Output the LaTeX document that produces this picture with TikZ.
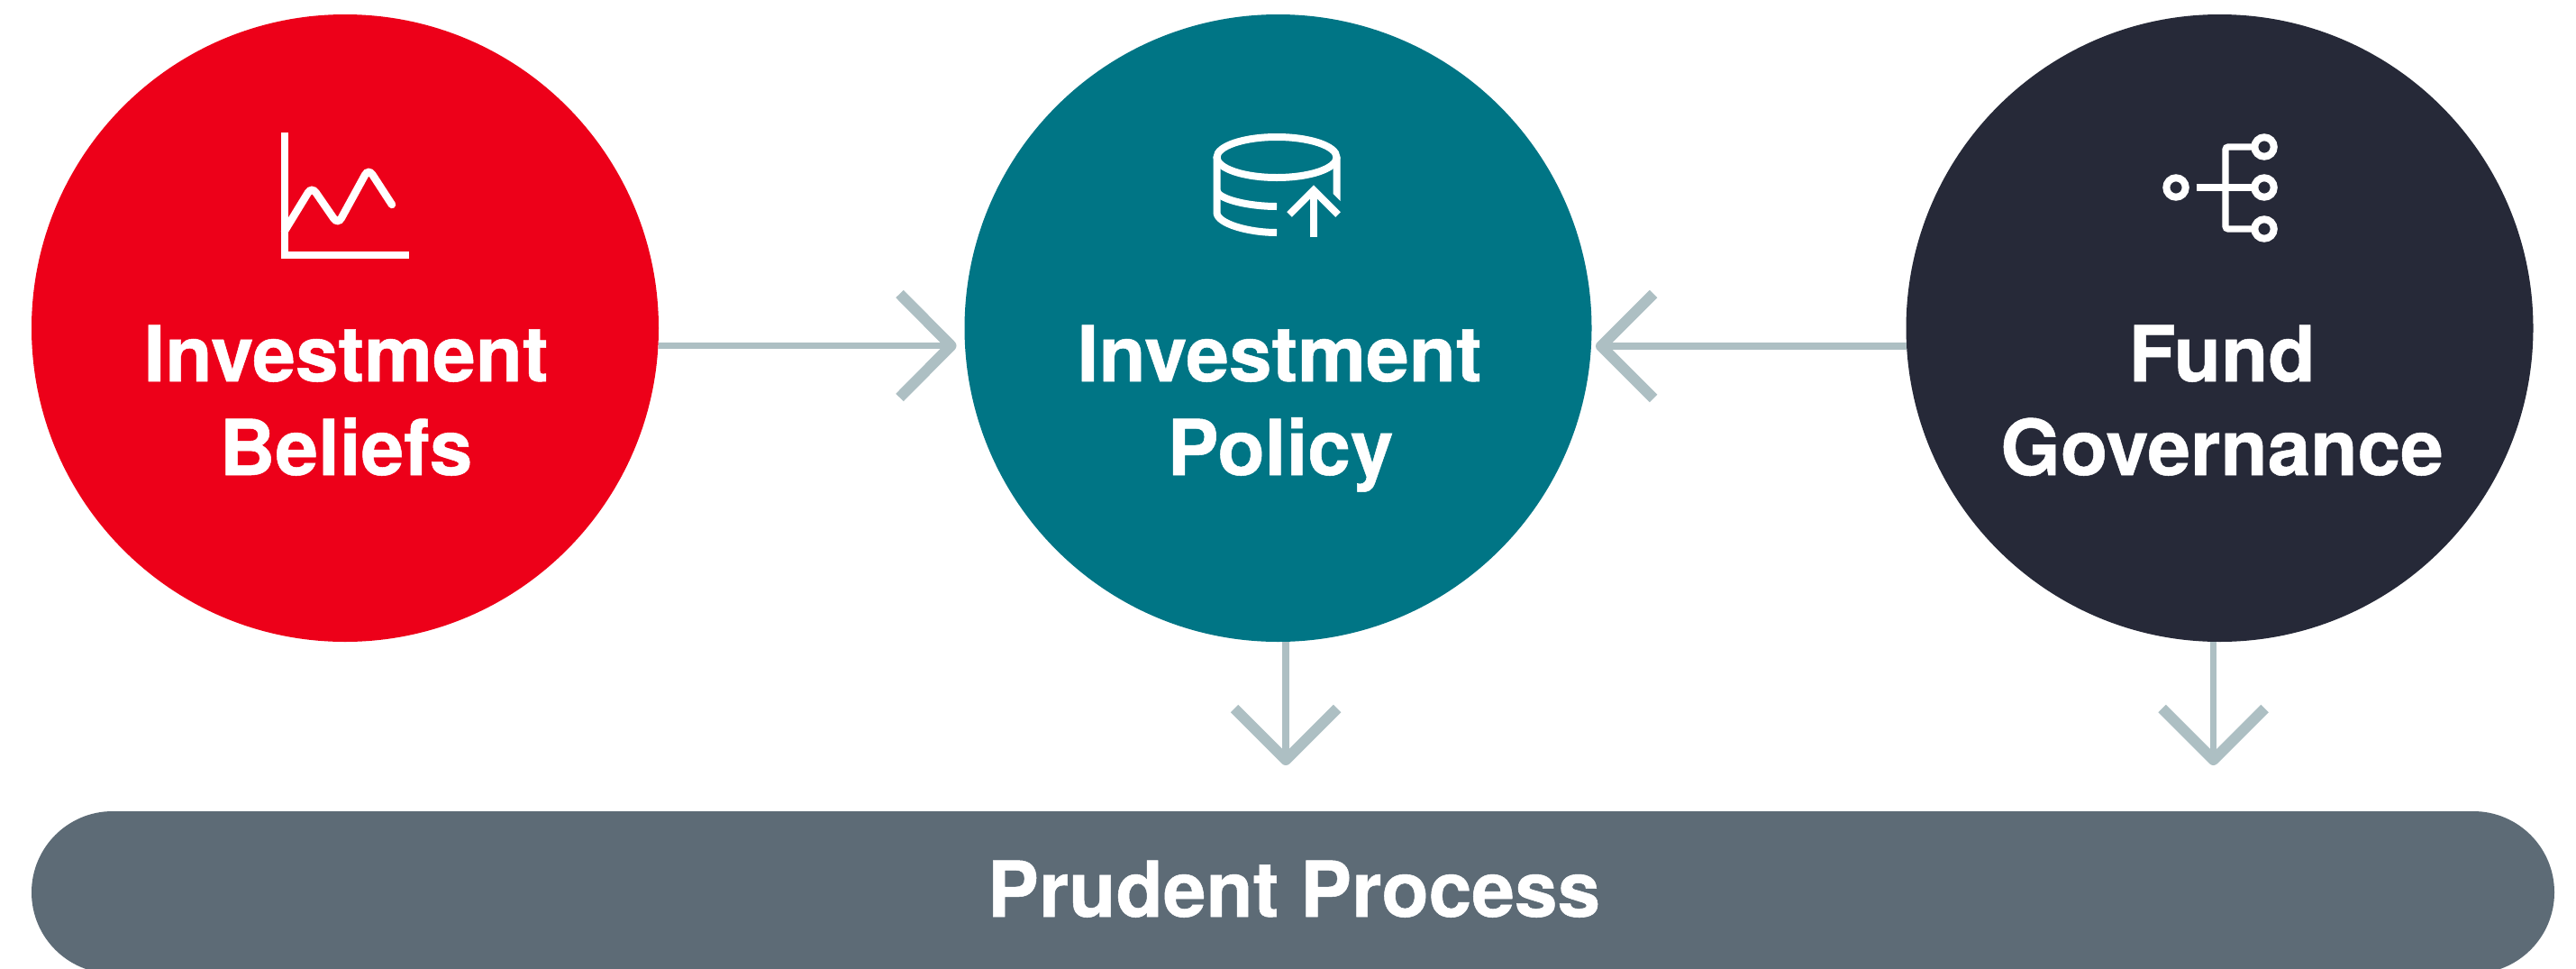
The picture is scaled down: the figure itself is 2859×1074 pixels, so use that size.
\documentclass[tikz,border=0pt]{standalone}
\usepackage{fontspec}
\setmainfont[BoldFeatures={FakeBold=0.6}]{TeX Gyre Heros}
\definecolor{cred}{HTML}{ED0019}
\definecolor{cteal}{HTML}{007585}
\definecolor{cnavy}{HTML}{262938}
\definecolor{cbar}{HTML}{5D6B76}
\definecolor{carrow}{HTML}{ADBFC3}
\tikzset{
  bubble/.style={circle,minimum size=696pt,inner sep=0pt,outer sep=0pt,draw=none},
  label/.style={text=white,font=\fontsize{85.6}{86}\selectfont\bfseries,anchor=base,inner sep=0pt},
  stem/.style={draw=carrow,line width=7.3pt},
  chev/.style={draw=carrow,line width=12pt,line join=round},
  icon/.style={draw=white,line width=8pt}
}
\begin{document}
\begin{tikzpicture}[x=1pt,y=-1pt]
\useasboundingbox (0,0) rectangle (2859,1074);
\fill[white] (0,0) rectangle (2859,1074);
\begin{scope}
\clip (0,0) rectangle (2859,1074);
\node[fill=cbar,rounded corners=90pt,minimum width=2800pt,minimum height=180pt,inner sep=0pt,outer sep=0pt] (bar) at (1435,990) {};
\end{scope}
\node[bubble,fill=cred] (c1) at (383,364) {};
\node[bubble,fill=cteal] (c2) at (1418.5,364) {};
\node[bubble,fill=cnavy] (c3) at (2463.5,364) {};
% labels
\node[label] (l1a) at (384,423) {Investment};
\node[label] (l1b) at (384,527) {Beliefs};
\node[label] (l2a) at (1420,423) {Investment};
\node[label] (l2b) at (1421,527) {Policy};
\node[label] (l3a) at (2466,423) {Fund};
\node[label] (l3b) at (2466,527) {Governance};
\node[label] (l4) at (1436,1017) {Prudent Process};
% connectors
\coordinate (t12) at (1055.5,383.5);
\coordinate (t32) at (1777,384);
\coordinate (t2b) at (1427,843);
\coordinate (t3b) at (2456.5,843);
\draw[stem] (c1.east |- t12) -- (t12);
\draw[chev] (998.5,326) -- (t12) -- (998.5,441);
\draw[stem] (c3.west |- t32) -- (t32);
\draw[chev] (1835,326) -- (t32) -- (1835,442);
\draw[stem] (t2b |- c2.south) -- (t2b);
\draw[chev] (1370,786) -- (t2b) -- (1484,786);
\draw[stem] (t3b |- c3.south) -- (t3b);
\draw[chev] (2399.5,786) -- (t3b) -- (2513.5,786);
% icon 1
\draw[icon] (316,147) -- (316,283) -- (454,283);
\draw[icon,line width=8.5pt,line cap=round,rounded corners=8pt] (316,256) -- (346,207) -- (375,249) -- (409,187) -- (435,227);
% icon 2
\draw[icon] (1417,174.5) ellipse [x radius=66.5,y radius=22.5];
\draw[icon] (1350.5,174.5) -- (1350.5,236) .. controls (1351,248) and (1385,258) .. (1417,258);
\draw[icon] (1350.5,212) .. controls (1353,221) and (1385,229) .. (1417,229);
\fill[white] (1479.5,174.5) -- (1487.5,174.5) -- (1487.5,223) -- (1479.5,215) -- cycle;
\draw[icon] (1458,263) -- (1458,212);
\draw[icon] (1431,238) -- (1458,211) -- (1485,238);
% icon 3
\draw[icon] (2415,208) circle [radius=10.7];
\draw[icon] (2513,163) circle [radius=10.7];
\draw[icon] (2513,208) circle [radius=10.7];
\draw[icon] (2513,254) circle [radius=10.7];
\draw[icon,line width=7.3pt] (2437.5,208) -- (2502,208);
\draw[icon,line width=7.3pt,rounded corners=3pt] (2502,163) -- (2470,163) -- (2470,254) -- (2502,254);
\end{tikzpicture}
\end{document}
